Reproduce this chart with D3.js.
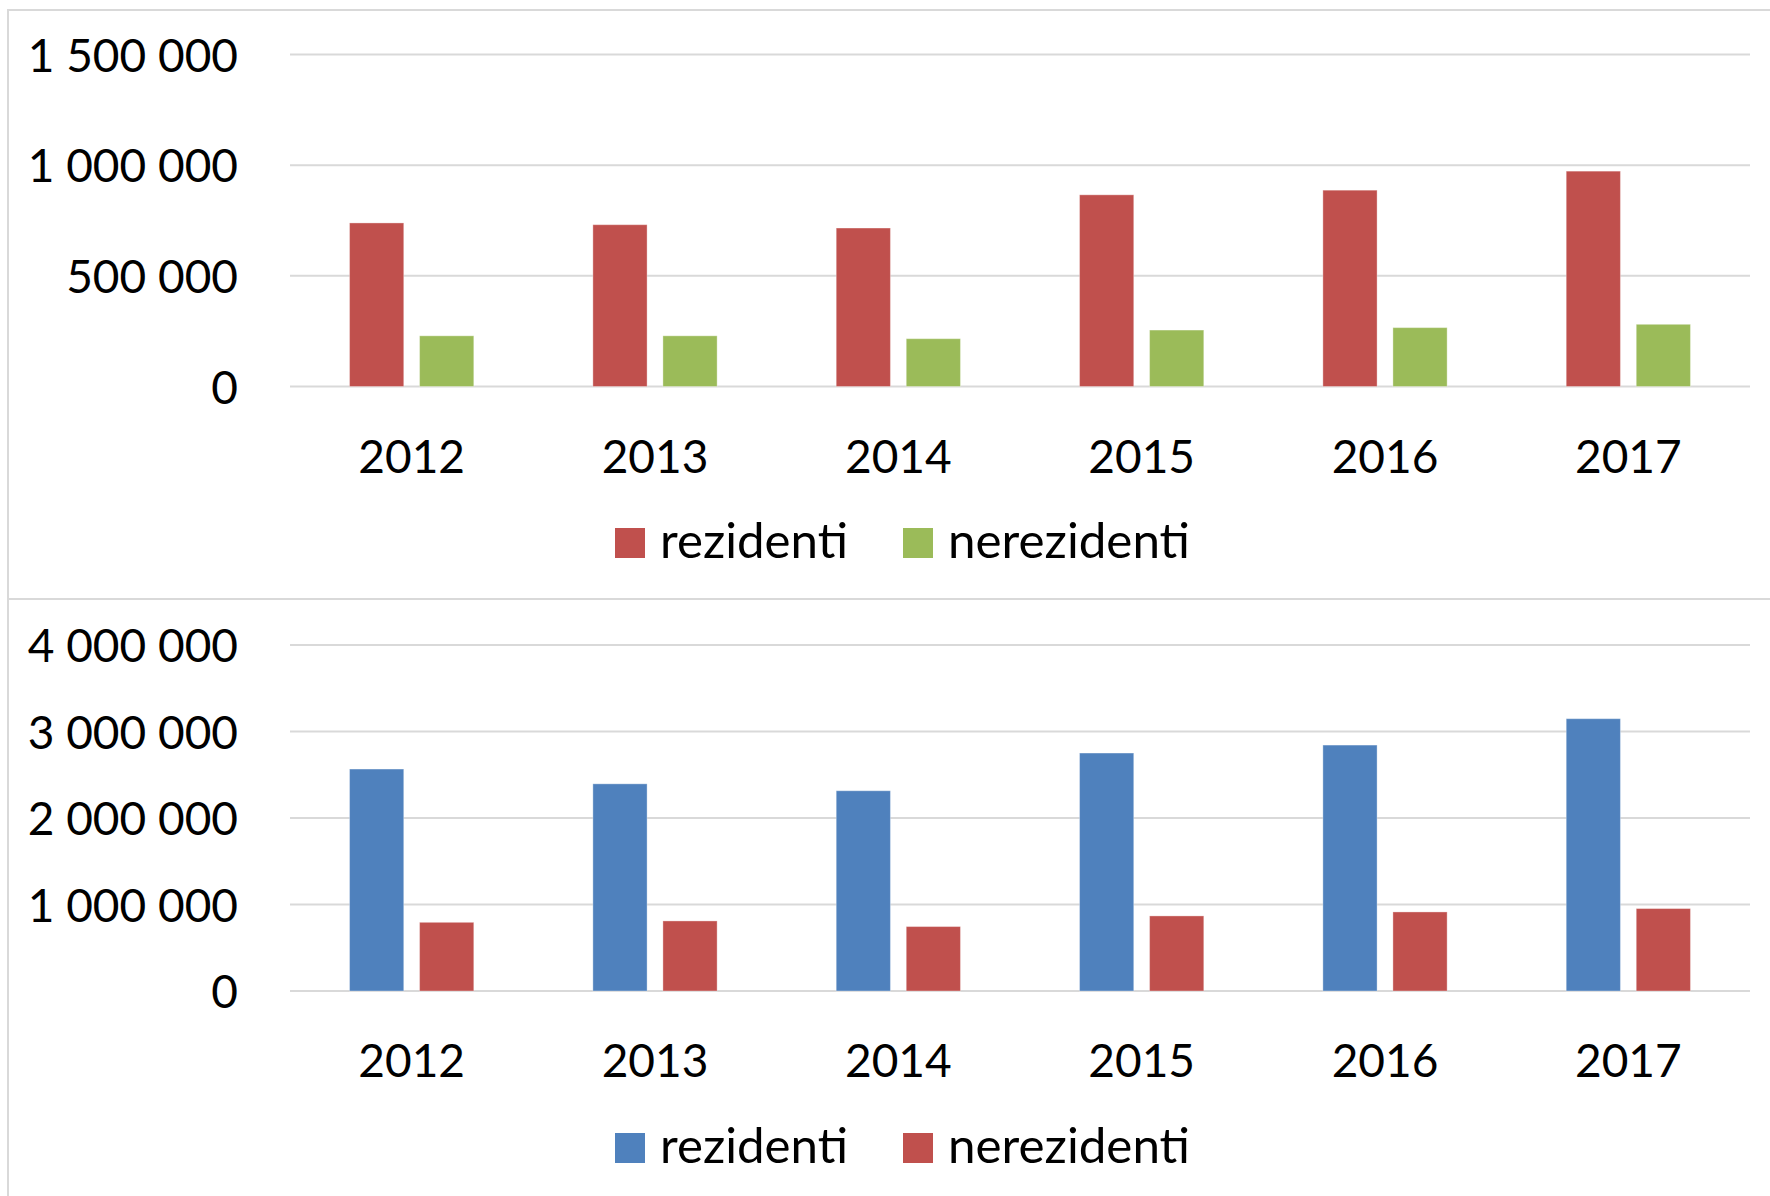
<!DOCTYPE html>
<html>
<head>
<meta charset="utf-8">
<script src="https://cdn.jsdelivr.net/npm/d3@7"></script>
<style>
  body { margin: 0; background: #fff; }
  text { font-family: Lato, "Open Sans", sans-serif; fill: #000; }
</style>
</head>
<body>
<script>
// data
const years = ["2012", "2013", "2014", "2015", "2016", "2017"];
const seriesNames = ["rezidenti", "nerezidenti"];

// top chart
const topRez = [739000, 731000, 716000, 866000, 887000, 973000];
const topNerez = [229000, 229000, 216000, 255000, 266000, 281000];
const topTicks = [0, 500000, 1000000, 1500000];

// bottom chart
const botRez = [2566000, 2395000, 2315000, 2751000, 2843000, 3148000];
const botNerez = [794000, 810000, 745000, 868000, 914000, 953000];
const botTicks = [0, 1000000, 2000000, 3000000, 4000000];

const W = 1770, H = 1196;
const fmt = d3.formatLocale({decimal: ",", thousands: " ", grouping: [3]}).format(",");

const svg = d3.select("body").append("svg")
    .attr("width", W).attr("height", H);

// chart frames
svg.append("rect").attr("x", 8).attr("y", 10).attr("width", 1800).attr("height", 589)
    .attr("fill", "none").attr("stroke", "#d9d9d9").attr("stroke-width", 2);
svg.append("rect").attr("x", 8).attr("y", 599).attr("width", 1800).attr("height", 700)
    .attr("fill", "none").attr("stroke", "#d9d9d9").attr("stroke-width", 2);

function drawChart(cfg) {
    const g = svg.append("g");
    const x = d3.scaleBand().domain(years).range([290, 1750]);
    const y = d3.scaleLinear().domain([0, cfg.ticks[cfg.ticks.length - 1]]).range([cfg.y0, cfg.y1]);

    // gridlines
    g.append("g").selectAll("line").data(cfg.ticks).join("line")
        .attr("x1", 290).attr("x2", 1750)
        .attr("y1", d => y(d)).attr("y2", d => y(d))
        .attr("stroke", "#d9d9d9").attr("stroke-width", 2);

    // y labels
    const ya = g.append("g").attr("transform", "translate(238,0)")
        .call(d3.axisLeft(y).tickValues(cfg.ticks).tickFormat(fmt).tickSize(0).tickPadding(0));
    ya.select(".domain").remove();
    ya.selectAll("text").attr("font-size", 46).attr("font-family", "Lato, sans-serif")
        .attr("dy", "0.36em").attr("fill", "#000");

    // bars
    const bw = x.bandwidth() * 0.2228, gap = x.bandwidth() * 0.065;
    const series = [cfg.a, cfg.b];
    series.forEach((vals, si) => {
        g.append("g").selectAll("rect").data(vals).join("rect")
            .attr("x", (d, i) => x(years[i]) + x.bandwidth() / 2 + (si === 0 ? -gap / 2 - bw : gap / 2))
            .attr("width", bw)
            .attr("y", d => y(d))
            .attr("height", d => y(0) - y(d))
            .attr("fill", cfg.colors[si])
            .attr("stroke", "#fff").attr("stroke-opacity", 0.35).attr("stroke-width", 1);
    });

    // x labels
    const xa = g.append("g").attr("transform", `translate(0,${cfg.y0})`)
        .call(d3.axisBottom(x).tickSize(0));
    xa.select(".domain").remove();
    xa.selectAll("text").attr("font-size", 46).attr("font-family", "Lato, sans-serif")
        .attr("y", 86).attr("dy", 0).attr("fill", "#000");

    // legend
    const lg = g.append("g");
    const items = [{x: 615, tx: 660, len: 188}, {x: 903, tx: 948, len: 242}];
    items.forEach((it, i) => {
        lg.append("rect").attr("x", it.x).attr("y", cfg.legY - 30)
            .attr("width", 30).attr("height", 30).attr("fill", cfg.colors[i]);
        lg.append("text").attr("x", it.tx).attr("y", cfg.legY)
            .attr("font-size", 48).attr("textLength", it.len)
            .attr("lengthAdjust", "spacingAndGlyphs").text(seriesNames[i]);
    });
}

drawChart({a: topRez, b: topNerez, ticks: topTicks, y0: 386.5, y1: 54.5,
           colors: ["#c0504d", "#9bbb59"], legY: 558});
drawChart({a: botRez, b: botNerez, ticks: botTicks, y0: 991, y1: 645,
           colors: ["#4f81bd", "#c0504d"], legY: 1163});
</script>
</body>
</html>
